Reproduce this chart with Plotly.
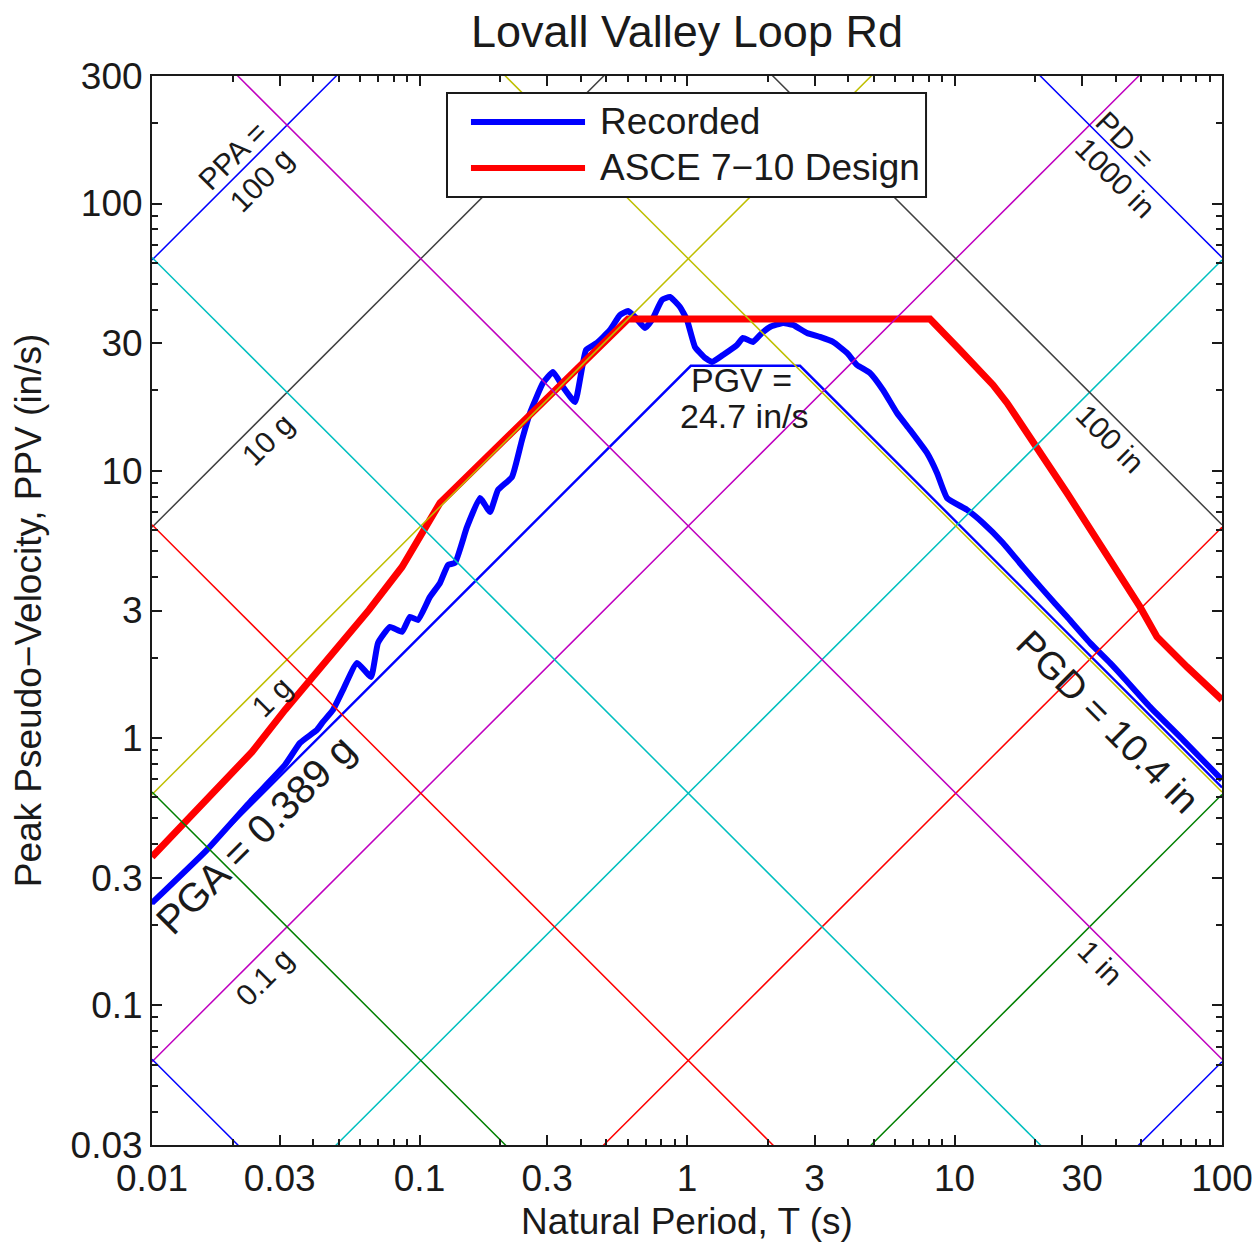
import numpy as np
import plotly.graph_objects as go

# ---------------------------------------------------------------------------
# Tripartite response spectrum, Lovall Valley Loop Rd
# ---------------------------------------------------------------------------
G_IN = 386.09          # gravity, in/s^2
TWO_PI = 2.0 * np.pi

# Recorded pseudo-velocity spectrum (period in s, PSV in in/s)
period_rec = [0.01, 0.01605, 0.02365, 0.03142, 0.03575, 0.04138, 0.04357, 0.04749,
              0.05176, 0.05841, 0.06588, 0.06997, 0.07755, 0.08602, 0.09215, 0.09872,
              0.1094, 0.1193, 0.1278, 0.1357, 0.1505, 0.1683, 0.1834, 0.1966, 0.2217,
              0.2416, 0.2588, 0.2895, 0.3155, 0.3439, 0.3814, 0.4193, 0.4609, 0.5154,
              0.5617, 0.6018, 0.6391, 0.6966, 0.7400, 0.8063, 0.8638, 0.9415, 1.000,
              1.071, 1.168, 1.240, 1.363, 1.538, 1.619, 1.765, 1.907, 2.043, 2.285,
              2.491, 2.810, 3.142, 3.514, 3.964, 4.320, 4.832, 5.404, 6.095, 6.817,
              7.891, 8.602, 9.376, 11.14, 12.78, 15.18, 18.04, 21.42, 26.34, 32.10,
              38.14, 42.65, 53.81, 71.48, 100.0]
psv_rec = [0.2416, 0.3815, 0.587, 0.793, 0.959, 1.073, 1.149, 1.274, 1.514, 1.910,
           1.693, 2.270, 2.605, 2.495, 2.840, 2.766, 3.373, 3.805, 4.443, 4.520,
           6.164, 7.913, 7.015, 8.479, 9.482, 13.04, 16.45, 21.31, 23.43, 20.59,
           18.09, 28.31, 30.08, 33.64, 38.28, 39.62, 37.63, 34.21, 36.67, 43.57,
           44.70, 41.02, 36.67, 29.06, 26.43, 25.53, 27.12, 29.56, 31.40, 30.34,
           32.78, 34.52, 35.73, 35.13, 32.78, 31.67, 30.34, 27.60, 24.88, 23.23,
           20.06, 16.45, 14.22, 11.66, 9.815, 7.913, 7.137, 6.378, 5.370, 4.367,
           3.583, 2.840, 2.270, 1.910, 1.693, 1.308, 0.984, 0.6973]

# ASCE 7-10 design spectrum expressed as pseudo-velocity
period_design = [0.01, 0.01329, 0.0178, 0.02365, 0.03142, 0.03961, 0.05001, 0.06475,
                 0.08602, 0.1022, 0.1193, 0.602, 8.10, 10.48, 13.93, 15.72, 26.34,
                 49.38, 57.15, 73.97, 100.0]
psv_design = [0.3591, 0.4815, 0.651, 0.8872, 1.274, 1.679, 2.192, 3.015, 4.367, 5.852,
              7.58, 36.98, 36.98, 28.31, 20.95, 17.94, 8.26, 3.094, 2.389, 1.845, 1.389]

# Peak ground motion values
pga_g = 0.389
pgv_ins = 24.7
pgd_in = 10.4

# Constant-acceleration and constant-displacement guide lines
ppa_levels_g = [1e-5, 1e-4, 1e-3, 1e-2, 0.1, 1, 10, 100]
pd_levels_in = [1e-4, 1e-3, 1e-2, 0.1, 1, 10, 100, 1000]
level_colors = ["#0000ff", "#008000", "#ff0000", "#00bfbf",
                "#bf00bf", "#bfbf00", "#404040", "#0000ff"]

# Axis ticks
x_tick_vals = [0.01, 0.03, 0.1, 0.3, 1, 3, 10, 30, 100]
x_tick_text = ["0.01", "0.03", "0.1", "0.3", "1", "3", "10", "30", "100"]
y_tick_vals = [0.03, 0.1, 0.3, 1, 3, 10, 30, 100, 300]
y_tick_text = ["0.03", "0.1", "0.3", "1", "3", "10", "30", "100", "300"]

# Guide line labels: (text, period, psv, angle)
guide_labels = [
    ("PPA =", 0.02009, 150.6, -45),
    ("100 g", 0.02577, 122.5, -45),
    ("10 g", 0.02715, 13.04, -45),
    ("1 g", 0.0281, 1.425, -45),
    ("0.1 g", 0.02644, 0.1278, -45),
    ("PD =", 43.4, 171.4, 45),
    ("1000 in", 39.8, 124.6, 45),
    ("100 in", 38.1, 13.15, 45),
    ("1 in", 35.0, 0.1441, 45),
]

# Peak value label anchors: (period, psv)
pga_label_at = (0.02427, 0.434)
pgv_label_at = [(1.592, 21.87), (1.647, 16.04)]
pgd_label_at = (37.5, 1.149)

FONT = "Liberation Sans, Arial, Helvetica, sans-serif"
INK = "#1a1a1a"

fig = go.Figure()

# Recorded and design spectra
fig.add_trace(go.Scatter(x=period_rec, y=psv_rec, mode="lines", name="Recorded",
                         line=dict(color="#0000ff", width=6, shape="spline", smoothing=0.4)))
fig.add_trace(go.Scatter(x=period_design, y=psv_design, mode="lines",
                         name="ASCE 7\u221210 Design",
                         line=dict(color="#ff0000", width=7)))

# PGA / PGV / PGD bounds
t_span = np.array([0.01, 100.0])
t_ag = TWO_PI * pgv_ins / (pga_g * G_IN)
t_vd = TWO_PI * pgd_in / pgv_ins
bound_t = [t_span[0], t_ag, t_vd, t_span[1]]
bound_v = [pga_g * G_IN * t_span[0] / TWO_PI, pgv_ins, pgv_ins, TWO_PI * pgd_in / t_span[1]]
fig.add_trace(go.Scatter(x=bound_t, y=bound_v, mode="lines", name="Peak bounds",
                         line=dict(color="#0000ff", width=2.4)))

# Diagonal guide lines
for lvl, col in zip(ppa_levels_g, level_colors):
    fig.add_trace(go.Scatter(x=t_span, y=lvl * G_IN * t_span / TWO_PI, mode="lines",
                             line=dict(color=col, width=1.5), name=f"PPA {lvl} g"))
for lvl, col in zip(pd_levels_in, level_colors):
    fig.add_trace(go.Scatter(x=t_span, y=TWO_PI * lvl / t_span, mode="lines",
                             line=dict(color=col, width=1.5), name=f"PD {lvl} in"))

annotations = []
for text, t, v, ang in guide_labels:
    annotations.append(dict(x=np.log10(t), y=np.log10(v), xref="x", yref="y", text=text,
                            showarrow=False, textangle=ang,
                            font=dict(size=30, color=INK, family=FONT)))

annotations.append(dict(x=np.log10(pga_label_at[0]), y=np.log10(pga_label_at[1]),
                        xref="x", yref="y", text=f"PGA = {pga_g} g", showarrow=False,
                        textangle=-45, font=dict(size=40, color=INK, family=FONT)))
for (t, v), text in zip(pgv_label_at, ["PGV =", f"{pgv_ins} in/s"]):
    annotations.append(dict(x=np.log10(t), y=np.log10(v), xref="x", yref="y", text=text,
                            showarrow=False, font=dict(size=34, color=INK, family=FONT)))
annotations.append(dict(x=np.log10(pgd_label_at[0]), y=np.log10(pgd_label_at[1]),
                        xref="x", yref="y", text=f"PGD = {pgd_in} in", showarrow=False,
                        textangle=45, font=dict(size=38, color=INK, family=FONT)))

# Legend box
leg_x0, leg_x1, leg_y0, leg_y1 = 0.2757, 0.7234, 0.8868, 0.9841
shapes = [dict(type="rect", xref="paper", yref="paper", x0=leg_x0, x1=leg_x1,
               y0=leg_y0, y1=leg_y1, fillcolor="white",
               line=dict(color=INK, width=2), layer="above")]
legend_rows = [("Recorded", "#0000ff", 0.9570), ("ASCE 7\u221210 Design", "#ff0000", 0.9140)]
for text, col, yy in legend_rows:
    shapes.append(dict(type="line", xref="paper", yref="paper", x0=0.2981, x1=0.4047,
                       y0=yy, y1=yy, line=dict(color=col, width=6), layer="above"))
    annotations.append(dict(x=0.4168, y=yy, xref="paper", yref="paper", text=text,
                            xanchor="left", yanchor="middle", showarrow=False,
                            font=dict(size=37, color=INK, family=FONT)))

x_minor = [m * 10.0 ** k for k in range(-2, 2) for m in (2, 4, 5, 6, 7, 8, 9)]
y_minor = [m * 10.0 ** k for k in range(-2, 3) for m in (2, 4, 5, 6, 7, 8, 9)
           if 0.03 < m * 10.0 ** k < 300]

axis_common = dict(type="log", showgrid=False, zeroline=False, showline=True,
                   linecolor=INK, linewidth=2, mirror="ticks", ticks="inside",
                   ticklen=10, tickwidth=2, tickcolor=INK, automargin=False,
                   tickfont=dict(size=37, color=INK, family=FONT))

fig.update_layout(
    width=1255, height=1242,
    margin=dict(l=152, r=33, t=76, b=97),
    paper_bgcolor="white", plot_bgcolor="white",
    showlegend=False,
    font=dict(family=FONT, color=INK),
    title=dict(text="Lovall Valley Loop Rd", x=0.5, xref="paper", xanchor="center",
               y=1 - 31 / 1242, yanchor="middle",
               font=dict(size=45, color=INK, family=FONT)),
    xaxis=dict(**axis_common, range=[-2, 2], tickmode="array", tickvals=x_tick_vals,
               ticktext=x_tick_text,
               minor=dict(tickmode="array", tickvals=x_minor, ticks="inside", ticklen=6,
                          tickwidth=1.5, tickcolor=INK, showgrid=False),
               title=dict(text="Natural Period, T (s)", standoff=10,
                          font=dict(size=37, color=INK, family=FONT))),
    yaxis=dict(**axis_common, range=[np.log10(0.03), np.log10(300)], tickmode="array",
               tickvals=y_tick_vals, ticktext=y_tick_text,
               minor=dict(tickmode="array", tickvals=y_minor, ticks="inside", ticklen=6,
                          tickwidth=1.5, tickcolor=INK, showgrid=False),
               title=dict(text="Peak Pseudo\u2212Velocity, PPV (in/s)", standoff=18,
                          font=dict(size=37, color=INK, family=FONT))),
    annotations=annotations,
    shapes=shapes,
)

fig.write_html("out.html")
